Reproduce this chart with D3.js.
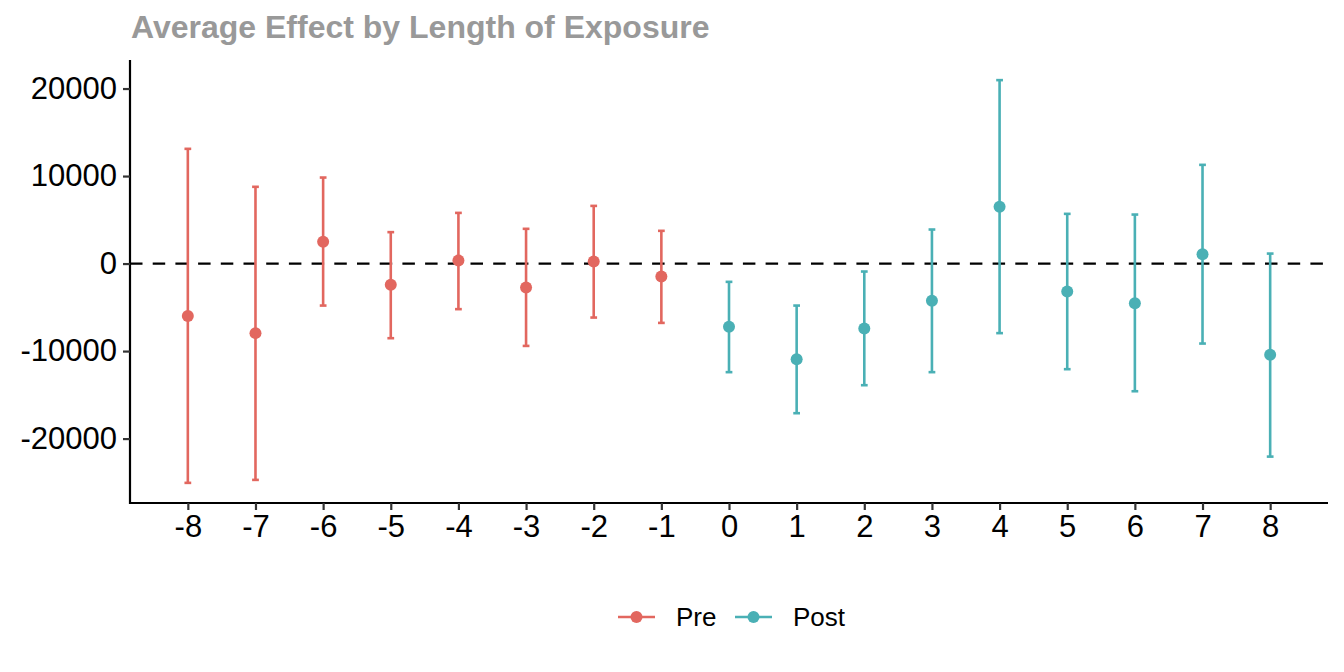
<!DOCTYPE html>
<html>
<head>
<meta charset="utf-8">
<script src="https://cdn.jsdelivr.net/npm/d3@7"></script>
<style>
  body { margin: 0; background: #fff; }
  text { font-family: "Liberation Sans", Arial, sans-serif; }
</style>
</head>
<body>
<svg id="chart" width="1344" height="672"></svg>
<script>
// ---- data ----
const periods = [-8, -7, -6, -5, -4, -3, -2, -1, 0, 1, 2, 3, 4, 5, 6, 7, 8];
const estimates = [-5980, -7950, 2480, -2430, 340, -2740, 230, -1480, -7230, -10930, -7430, -4260, 6480, -3200, -4530, 1070, -10430];
const lowerCI = [-25060, -24720, -4800, -8530, -5210, -9410, -6170, -6780, -12410, -17100, -13900, -12410, -7950, -12070, -14590, -9140, -22060];
const upperCI = [13110, 8770, 9830, 3590, 5790, 3970, 6590, 3740, -2090, -4800, -910, 3890, 20960, 5680, 5600, 11280, 1140];
const groups = ["Pre", "Post"];
const yTicks = [-20000, -10000, 0, 10000, 20000];
const titleText = "Average Effect by Length of Exposure";

const data = periods.map((p, i) => ({
  period: p, est: estimates[i], lo: lowerCI[i], hi: upperCI[i],
  group: p < 0 ? "Pre" : "Post"
}));

const color = d3.scaleOrdinal().domain(groups).range(["#E2675F", "#4AB0B5"]);

const svg = d3.select("#chart");
const mLeft = 130, mRight = 1328, mTop = 60, mBottom = 503;

const x = d3.scaleLinear().domain([-8.855, 8.855]).range([mLeft, mRight]);
const y = d3.scaleLinear().domain([-27361, 23261]).range([mBottom, mTop]);

// title
svg.append("text").attr("x", 131).attr("y", 38)
  .attr("font-size", 32).attr("font-weight", "bold").attr("fill", "#999999")
  .text(titleText);

// zero line
svg.append("line")
  .attr("x1", mLeft).attr("x2", mRight)
  .attr("y1", y(0)).attr("y2", y(0))
  .attr("stroke", "#000").attr("stroke-width", 2.2)
  .attr("stroke-dasharray", "12.5,10.2");

// error bars
const capHalf = (x(0.05) - x(0));
const eb = svg.append("g").selectAll("g").data(data).join("g")
  .attr("stroke", d => color(d.group)).attr("stroke-width", 2.6);
eb.append("line").attr("x1", d => x(d.period)).attr("x2", d => x(d.period))
  .attr("y1", d => y(d.lo)).attr("y2", d => y(d.hi));
eb.append("line").attr("x1", d => x(d.period) - capHalf).attr("x2", d => x(d.period) + capHalf)
  .attr("y1", d => y(d.lo)).attr("y2", d => y(d.lo));
eb.append("line").attr("x1", d => x(d.period) - capHalf).attr("x2", d => x(d.period) + capHalf)
  .attr("y1", d => y(d.hi)).attr("y2", d => y(d.hi));

// points
svg.append("g").selectAll("circle").data(data).join("circle")
  .attr("cx", d => x(d.period)).attr("cy", d => y(d.est)).attr("r", 6)
  .attr("fill", d => color(d.group));

// axes
const xAxis = svg.append("g").attr("transform", `translate(0,${mBottom})`)
  .call(d3.axisBottom(x).tickValues(periods).tickFormat(d => String(d)).tickSizeOuter(0).tickSize(7).tickPadding(5));
const yAxis = svg.append("g").attr("transform", `translate(${mLeft},0)`)
  .call(d3.axisLeft(y).tickValues(yTicks).tickFormat(d => String(d)).tickSizeOuter(0).tickSize(7).tickPadding(6));
[xAxis, yAxis].forEach(a => {
  a.select(".domain").attr("stroke", "#000").attr("stroke-width", 2.2);
  a.selectAll(".tick line").attr("stroke", "#333").attr("stroke-width", 2.2);
  a.selectAll(".tick text").attr("font-size", 31).attr("fill", "#000")
    .attr("font-family", "'Liberation Sans', Arial, sans-serif");
});
xAxis.select(".domain").attr("d", `M${mLeft - 1},0H${mRight}`);
yAxis.select(".domain").attr("d", `M0,${mTop}V${mBottom + 1}`);

// legend
const legendItems = [
  { g: "Pre", kx: 618, tx: 676 },
  { g: "Post", kx: 735, tx: 793 }
];
const lg = svg.append("g").selectAll("g").data(legendItems).join("g");
lg.append("line").attr("x1", d => d.kx).attr("x2", d => d.kx + 37)
  .attr("y1", 617).attr("y2", 617).attr("stroke", d => color(d.g)).attr("stroke-width", 2.6);
lg.append("circle").attr("cx", d => d.kx + 18.5).attr("cy", 617).attr("r", 6).attr("fill", d => color(d.g));
lg.append("text").attr("x", d => d.tx).attr("y", 626).attr("font-size", 26).attr("fill", "#000").text(d => d.g);
</script>
</body>
</html>
